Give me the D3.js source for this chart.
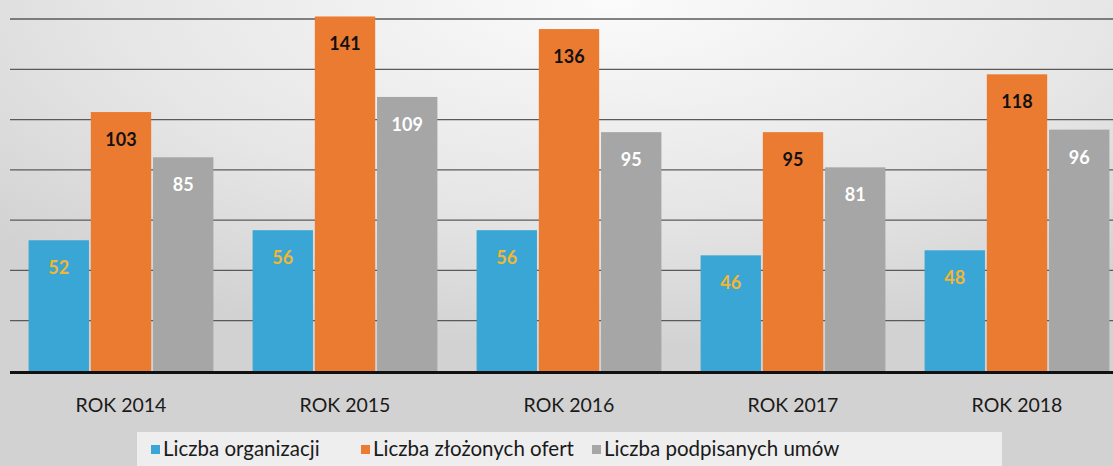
<!DOCTYPE html>
<head>
  <meta charset="utf-8">
  <style>
    body { margin: 0; background: #dcdcdc; }
    text { font-family: Lato, 'Open Sans', sans-serif; }
  </style>
</head>
<body>
  <script src="https://cdn.jsdelivr.net/npm/d3@7"></script>
  <script>
    // chart data
    const years = ["ROK 2014", "ROK 2015", "ROK 2016", "ROK 2017", "ROK 2018"];
    const seriesNames = ["Liczba organizacji", "Liczba złożonych ofert", "Liczba podpisanych umów"];
    const organizacje = [52, 56, 56, 46, 48];
    const oferty = [103, 141, 136, 95, 118];
    const umowy = [85, 109, 95, 81, 96];
    const gridTicks = [20, 40, 60, 80, 100, 120, 140];

    const colors = ["#39a6d6", "#ec7b32", "#a6a6a6"];
    const labelColors = ["#f2b632", "#111111", "#ffffff"];

    const width = 1113, height = 466;
    const baseY = 371;

    const svg = d3.select("body").append("svg")
      .attr("width", width).attr("height", height);

    // scanned paper background
    const defs = svg.append("defs");
    const grad = defs.append("radialGradient").attr("id", "paper")
      .attr("cx", "55%").attr("cy", "0%").attr("r", "75%");
    grad.append("stop").attr("offset", "0%").attr("stop-color", "#fbfbfb");
    grad.append("stop").attr("offset", "60%").attr("stop-color", "#e6e6e6");
    grad.append("stop").attr("offset", "100%").attr("stop-color", "#d2d2d2");
    svg.append("rect").attr("width", width).attr("height", height).attr("fill", "url(#paper)");

    const x0 = d3.scaleBand().domain(years).range([9, 1129])
      .paddingInner(0.175).paddingOuter(0.0875);
    const x1 = d3.scaleBand().domain(d3.range(3)).range([0, x0.bandwidth()]).paddingInner(0.03);
    const y = d3.scaleLinear().domain([0, 140]).range([baseY, 19]);

    // gridlines
    svg.append("g").selectAll("line").data(gridTicks).join("line")
      .attr("x1", 10).attr("x2", width)
      .attr("y1", d => y(d)).attr("y2", d => y(d))
      .attr("stroke", "#5a5a5a").attr("stroke-width", 1.3);

    const rows = years.map((yr, i) => ({ year: yr, values: [organizacje[i], oferty[i], umowy[i]] }));

    const groups = svg.append("g").selectAll("g").data(rows).join("g")
      .attr("transform", d => "translate(" + x0(d.year) + ",0)");

    groups.selectAll("rect").data(d => d.values.map((v, k) => ({ k, v }))).join("rect")
      .attr("x", d => x1(d.k))
      .attr("y", d => y(d.v))
      .attr("width", x1.bandwidth())
      .attr("height", d => baseY - y(d.v))
      .attr("fill", d => colors[d.k]);

    groups.selectAll("text").data(d => d.values.map((v, k) => ({ k, v }))).join("text")
      .attr("x", d => x1(d.k) + x1.bandwidth() / 2)
      .attr("y", d => y(d.v) + 34)
      .attr("text-anchor", "middle")
      .attr("font-size", 18)
      .attr("font-weight", "bold")
      .attr("fill", d => labelColors[d.k])
      .text(d => d.v);

    // baseline
    svg.append("line").attr("x1", 10).attr("x2", width)
      .attr("y1", baseY + 1.5).attr("y2", baseY + 1.5)
      .attr("stroke", "#111").attr("stroke-width", 3);

    // category labels
    svg.append("g").selectAll("text").data(years).join("text")
      .attr("x", d => x0(d) + x0.bandwidth() / 2)
      .attr("y", 412)
      .attr("text-anchor", "middle")
      .attr("font-size", 19.5)
      .attr("fill", "#1a1a1a")
      .text(d => d);

    // legend
    svg.append("rect").attr("x", 137).attr("y", 432).attr("width", 865).attr("height", 40)
      .attr("fill", "#eeeeee");
    const legendX = [151, 361, 592];
    const legend = svg.append("g").selectAll("g").data(seriesNames).join("g")
      .attr("transform", (d, i) => "translate(" + legendX[i] + ",449)");
    legend.append("rect").attr("x", 0).attr("y", -4).attr("width", 9).attr("height", 9)
      .attr("fill", (d, i) => colors[i]);
    legend.append("text").attr("x", 12).attr("y", 7)
      .attr("font-size", 20.5).attr("fill", "#1a1a1a")
      .text(d => d);
  </script>
</body>
